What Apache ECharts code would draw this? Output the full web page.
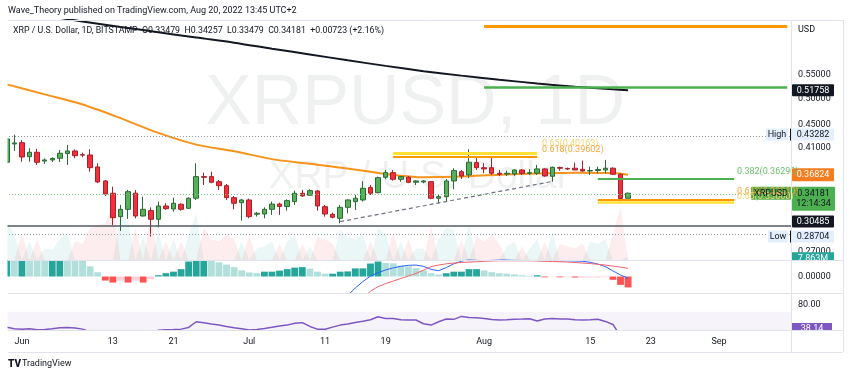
<!DOCTYPE html>
<html>
<head>
<meta charset="utf-8">
<script src="https://cdn.jsdelivr.net/npm/echarts@6/dist/echarts.min.js"></script>
<style>
html,body{margin:0;padding:0;background:#fff}
#chart{width:850px;height:377px}
</style>
</head>
<body>
<div id="chart"></div>
<script>
// daily candles XRP/USD, Bitstamp
var dates = ['May 30','May 31',
  'Jun 1','Jun 2','Jun 3','Jun 4','Jun 5','Jun 6','Jun 7','Jun 8','Jun 9','Jun 10','Jun 11','Jun 12','Jun 13','Jun 14','Jun 15',
  'Jun 16','Jun 17','Jun 18','Jun 19','Jun 20','Jun 21','Jun 22','Jun 23','Jun 24','Jun 25','Jun 26','Jun 27','Jun 28','Jun 29','Jun 30',
  'Jul 1','Jul 2','Jul 3','Jul 4','Jul 5','Jul 6','Jul 7','Jul 8','Jul 9','Jul 10','Jul 11','Jul 12','Jul 13','Jul 14','Jul 15','Jul 16',
  'Jul 17','Jul 18','Jul 19','Jul 20','Jul 21','Jul 22','Jul 23','Jul 24','Jul 25','Jul 26','Jul 27','Jul 28','Jul 29','Jul 30','Jul 31',
  'Aug 1','Aug 2','Aug 3','Aug 4','Aug 5','Aug 6','Aug 7','Aug 8','Aug 9','Aug 10','Aug 11','Aug 12','Aug 13','Aug 14','Aug 15','Aug 16',
  'Aug 17','Aug 18','Aug 19','Aug 20','Aug 21','Aug 22','Aug 23','Aug 24','Aug 25','Aug 26','Aug 27','Aug 28','Aug 29','Aug 30','Aug 31',
  'Sep 1','Sep 2','Sep 3','Sep 4','Sep 5','Sep 6','Sep 7','Sep 8','Sep 9','Sep 10'];

var tickDates = ['Jun 1','Jun 13','Jun 21','Jul 1','Jul 11','Jul 19','Aug 1','Aug 15','Aug 23','Sep 1'];
var priceTicks = [0.27, 0.41, 0.45, 0.5, 0.55];

// [open, close, low, high]
var candles = [
  [0.3872,0.4253,0.3860,0.4270],[0.4168,0.4185,0.4052,0.43282],[0.4190,0.3955,0.3880,0.4236],[0.3960,0.4031,0.3880,0.4097],
  [0.4031,0.3872,0.3830,0.4085],[0.3890,0.3908,0.3845,0.3932],[0.3908,0.3932,0.3877,0.3950],[0.3935,0.4015,0.3877,0.4069],
  [0.4010,0.4052,0.3830,0.4151],[0.4052,0.3976,0.3935,0.4080],[0.3992,0.3985,0.3950,0.4025],[0.3987,0.3788,0.3727,0.4080],
  [0.3799,0.3576,0.3558,0.3856],[0.3591,0.3407,0.3380,0.3605],[0.3417,0.3097,0.3007,0.3509],[0.3110,0.3203,0.2935,0.3260],
  [0.3203,0.3439,0.3081,0.3463],[0.3418,0.3118,0.3089,0.3463],[0.3118,0.3203,0.3110,0.3370],[0.3186,0.3077,0.28704,0.3229],
  [0.3077,0.3246,0.2979,0.3304],[0.3246,0.3211,0.3195,0.3282],[0.3207,0.3282,0.3173,0.3357],[0.3269,0.3203,0.3186,0.3282],
  [0.3216,0.3349,0.3207,0.3362],[0.3349,0.3654,0.3326,0.3856],[0.3654,0.3645,0.3533,0.3712],[0.3654,0.3572,0.3558,0.3727],
  [0.3580,0.3523,0.3463,0.3605],[0.3523,0.3357,0.3326,0.3548],[0.3357,0.3282,0.3203,0.3380],[0.3290,0.3326,0.3060,0.3340],
  [0.3326,0.3110,0.3089,0.3343],[0.3140,0.3152,0.3110,0.3169],[0.3143,0.3203,0.3089,0.3229],[0.3203,0.3271,0.3131,0.3304],
  [0.3271,0.3240,0.3131,0.3290],[0.3240,0.3317,0.3186,0.3335],[0.3304,0.3417,0.3260,0.3453],[0.3417,0.3380,0.3370,0.3463],
  [0.3390,0.3453,0.3380,0.3472],[0.3449,0.3246,0.3186,0.3463],[0.3237,0.3143,0.3110,0.3260],[0.3139,0.3102,0.3089,0.3160],
  [0.3089,0.3229,0.3027,0.3260],[0.3229,0.3326,0.3152,0.3335],[0.3304,0.3349,0.3195,0.3394],[0.3326,0.3486,0.3304,0.3586],
  [0.3496,0.3417,0.3394,0.3533],[0.3425,0.3639,0.3417,0.3654],[0.3645,0.3713,0.3615,0.3753],[0.3713,0.3615,0.3595,0.3753],
  [0.3615,0.3654,0.3580,0.3664],[0.3645,0.3572,0.3558,0.3664],[0.3572,0.3591,0.3533,0.3605],[0.3576,0.3591,0.3558,0.3605],
  [0.3581,0.3349,0.3335,0.3590],[0.3349,0.3370,0.3282,0.3394],[0.3370,0.3591,0.3304,0.3620],[0.3591,0.3743,0.3472,0.3780],
  [0.3727,0.3664,0.3620,0.3753],[0.3679,0.3872,0.3634,0.4080],[0.3866,0.3788,0.3753,0.3971],[0.3788,0.3769,0.3704,0.3856],
  [0.3788,0.3704,0.3679,0.3950],[0.3704,0.3690,0.3664,0.3753],[0.3693,0.3704,0.3664,0.3743],[0.3693,0.3753,0.3664,0.3764],
  [0.3753,0.3704,0.3679,0.3764],[0.3704,0.3712,0.3679,0.3764],[0.3704,0.3769,0.3679,0.3830],[0.3769,0.3664,0.3654,0.3780],
  [0.3659,0.3794,0.3580,0.3804],[0.3790,0.3780,0.3743,0.3804],[0.3775,0.3769,0.3753,0.3789],[0.3780,0.3753,0.3753,0.3866],
  [0.3764,0.3738,0.3727,0.3897],[0.3738,0.3745,0.3679,0.3804],[0.3745,0.3760,0.3704,0.3804],[0.3753,0.3780,0.3704,0.3908],
  [0.3780,0.3689,0.3679,0.3794],[0.3689,0.33458,0.3304,0.3700],[0.33479,0.34181,0.33479,0.34257]
];

// volume, millions
var volume = [85,55,60,40,45,25,22,45,60,40,35,70,75,80,120,95,85,70,50,95,60,40,45,40,55,100,70,45,40,55,
  45,40,55,25,30,40,35,40,55,35,30,50,45,35,65,50,45,55,40,70,55,60,40,45,25,25,75,45,70,65,
  45,80,50,40,55,35,30,40,30,25,45,40,60,35,30,25,35,40,35,45,55,115,7.863];

// [day index, value]
var ema50 = [[0,0.530],[5,0.509],[10,0.4886],[15,0.4625],[20,0.4358],[25,0.4157],[30,0.4049],[35,0.3921],[40,0.3848],
  [45,0.3776],[50,0.3693],[55,0.3645],[60,0.3655],[65,0.3683],[70,0.3700],[75,0.3712],[80,0.3708],[82,0.36824]];
var ma200 = [[0,0.717],[5,0.700],[10,0.683],[15,0.668],[20,0.654],[25,0.640],[30,0.627],[35,0.612],[40,0.598],
  [45,0.584],[50,0.571],[55,0.559],[60,0.549],[65,0.540],[70,0.532],[75,0.525],[80,0.5195],[82,0.51758]];

var macdHist = [0.0080,0.0078,0.0080,0.0077,0.0074,0.0071,0.0073,0.0075,0.0072,0.0069,0.0066,
  0.0040,0.0017,-0.0016,-0.0024,-0.0016,-0.0024,-0.0016,-0.0024,-0.0011,
  0.0005,0.0013,0.0019,0.0029,0.0059,0.0066,0.0068,0.0066,0.0056,0.0047,
  0.0037,0.0024,0.0016,0.0013,0.0019,0.0019,0.0023,0.0029,0.0035,0.0037,
  0.0031,0.0019,0.0011,0.0011,0.0019,0.0020,0.0032,0.0032,0.0051,0.0059,
  0.0053,0.0052,0.0043,0.0040,0.0033,0.0024,0.0013,0.0008,0.0013,0.0019,
  0.0019,0.0029,0.0029,0.0024,0.0017,0.0013,0.0011,0.0008,0.0005,0.0003,
  0.0005,-0.0003,-0.0001,-0.0003,-0.0003,-0.0004,-0.0004,-0.0004,-0.0004,-0.0003,
  -0.0013,-0.0033,-0.0043];
var macdStart = 43;
var macdLine = [-0.014,-0.011,-0.0075,-0.0045,-0.002,0.0002,0.0015,0.0026,0.0034,0.004,0.0044,0.0045,0.004,0.0028,0.0023,
  0.0035,0.005,0.006,0.0067,0.0070,0.0072,0.0070,0.0068,0.0066,0.0064,0.0063,0.0063,0.0063,0.0062,0.0063,0.0062,0.0062,
  0.0061,0.0060,0.0056,0.0049,0.0039,0.0022,0.0006,-0.0007];
var signalStart = 45;
var signalLine = [-0.014,-0.012,-0.0085,-0.0058,-0.004,-0.0028,-0.0018,-0.0008,0.0002,0.0012,0.0025,0.0039,0.0045,0.005,
  0.0053,0.0055,0.0057,0.0058,0.006,0.0061,0.0062,0.0062,0.0062,0.0062,0.0062,0.0061,0.006,0.0059,0.0058,0.0057,0.0055,
  0.0053,0.0051,0.0048,0.0045,0.0041,0.0037,0.0032];

var rsi = [46.7,44.5,43.8,44.6,43,43.3,44.5,46.2,46.5,45.8,44,40,35,31,24,27,33,28,30,28,
  42.5,43,43.4,44,46.5,55,53.5,51.5,50.3,48,46,44.5,42.6,43.5,45,46.7,48.5,50,52.7,53.6,
  48,44,43.8,47,50,51.5,54,55.8,58,62.5,60,60,58,57.6,57.6,52,50,55,59,58.6,
  63,61.5,61,60,58.5,57.6,58,58.6,59,59.5,56,59,60,59,59,58,57.6,58,58.6,55.5,51,33.5,38.14];

// drawn levels
var topOrange = 0.669;
var topGreen = 0.523;
var fibUpper = [0.40163, 0.39602];
var fib382 = 0.3629;
var fibLower = [0.3331, 0.3300];
var support = 0.30485;
var trendFrom = ['Jul 13', 0.3048];
var trendTo = ['Aug 10', 0.3584];
var lastClose = 0.34181, dayHigh = 0.43282, dayLow = 0.28704;

var TXT = '#131722';
var FONT = 'Roboto, "Noto Sans", sans-serif';
var FS = 9;
var chart = echarts.init(document.getElementById('chart'));

function xAx(gi, show) {
  return {
    type: 'category', gridIndex: gi, data: dates, boundaryGap: true,
    axisLine: {show: false}, axisTick: {show: false}, splitLine: {show: false},
    axisLabel: show ? {
      show: true, color: TXT, fontSize: FS, fontFamily: FONT, margin: 7,
      interval: function (i, v) { return tickDates.indexOf(v) >= 0; },
      formatter: function (v) { var p = v.split(' '); return p[1] === '1' ? p[0] : p[1]; }
    } : {show: false}
  };
}

function pts(arr) { return arr.map(function (p) { return [dates[p[0]], p[1]]; }); }
function fromStart(start, arr) { return arr.map(function (v, i) { return [dates[start + i], v]; }); }

var upVol = volume.map(function (v, i) { return candles[i][1] >= candles[i][0] ? v : 0; });
var dnVol = volume.map(function (v, i) { return candles[i][1] < candles[i][0] ? v : 0; });

var histData = macdHist.map(function (v, i) {
  var prev = i > 0 ? macdHist[i - 1] : v;
  var c;
  if (v >= 0) c = v >= prev ? '#26a69a' : '#b2dfdb';
  else c = v < prev ? '#ff5252' : '#ffcdd2';
  return {value: v, itemStyle: {color: c}};
});

function seg(a, b, color, width, type) {
  return [{coord: a, lineStyle: {color: color, width: width, type: type || 'solid'}}, {coord: b}];
}

var labelStyle = {color: TXT, fontSize: FS, fontFamily: FONT};

var option = {
  animation: false,
  backgroundColor: '#fff',
  grid: [
    {left: 3, top: 20, width: 788, height: 240, outerBoundsMode: 'none'},
    {left: 3, top: 260, width: 788, height: 33, outerBoundsMode: 'none'},
    {left: 3, top: 293, width: 788, height: 37, outerBoundsMode: 'none'}
  ],
  xAxis: [xAx(0, false), xAx(1, false), xAx(2, true)],
  yAxis: [
    {type: 'log', gridIndex: 0, position: 'right', min: 0.2611, max: 0.687,
      axisLine: {show: false}, axisTick: {show: false}, splitLine: {show: false},
      axisLabel: Object.assign({customValues: priceTicks, margin: 7,
        formatter: function (v) { return Number(v).toFixed(5); }}, labelStyle)},
    {type: 'value', gridIndex: 1, position: 'right', min: -0.0065, max: 0.0065,
      axisLine: {show: false}, axisTick: {show: false}, splitLine: {show: false},
      axisLabel: Object.assign({customValues: [0], margin: 7,
        formatter: function (v) { return Number(v).toFixed(5); }}, labelStyle)},
    {type: 'value', gridIndex: 2, position: 'right', min: 42.7, max: 97.9,
      axisLine: {show: false}, axisTick: {show: false}, splitLine: {show: false},
      axisLabel: Object.assign({customValues: [80], margin: 7,
        formatter: function (v) { return Number(v).toFixed(2); }}, labelStyle)},
    {type: 'value', gridIndex: 0, min: 0, max: 520, show: false}
  ],
  series: [
    {type: 'line', xAxisIndex: 0, yAxisIndex: 3, data: upVol, symbol: 'none', z: 1,
      lineStyle: {width: 0}, areaStyle: {color: 'rgba(38,166,154,0.13)'}},
    {type: 'line', xAxisIndex: 0, yAxisIndex: 3, data: dnVol, symbol: 'none', z: 1,
      lineStyle: {width: 0}, areaStyle: {color: 'rgba(242,54,69,0.13)'}},
    {type: 'line', xAxisIndex: 0, yAxisIndex: 0, data: pts(ma200), symbol: 'none', smooth: 0.3,
      lineStyle: {color: '#131722', width: 2}},
    {type: 'line', xAxisIndex: 0, yAxisIndex: 0, data: pts(ema50), symbol: 'none', smooth: 0.3,
      lineStyle: {color: '#f7931a', width: 2}},
    {type: 'candlestick', xAxisIndex: 0, yAxisIndex: 0, data: candles, barWidth: 5, z: 3,
      itemStyle: {color: '#55b05a', color0: '#f0303d', borderColor: '#2b6b34', borderColor0: '#a8202a', borderWidth: 1},
      markLine: {
        silent: true, symbol: ['none', 'none'], label: {show: false}, animation: false,
        data: [
          {yAxis: dayHigh, lineStyle: {color: '#9598a1', width: 1, type: [1, 2]}},
          {yAxis: dayLow, lineStyle: {color: '#9598a1', width: 1, type: [1, 2]}},
          {yAxis: lastClose, lineStyle: {color: '#7cc47f', width: 1, type: [1, 2]}},
          {yAxis: support, lineStyle: {color: '#555a63', width: 1.5, type: 'solid'}},
          seg(['Aug 1', topOrange], ['Sep 10', topOrange], '#ff9800', 3),
          seg(['Aug 1', topGreen], ['Sep 10', topGreen], '#4caf50', 2.5),
          seg(['Jul 20', fibUpper[0]], ['Aug 8', fibUpper[0]], '#ffe135', 3),
          seg(['Jul 20', fibUpper[1]], ['Aug 8', fibUpper[1]], '#ff9800', 2),
          seg(['Aug 16', fib382], ['Sep 3', fib382], '#4caf50', 2),
          seg(['Aug 16', fibLower[0]], ['Sep 3', fibLower[0]], '#ff9800', 2),
          seg(['Aug 16', fibLower[1]], ['Sep 3', fibLower[1]], '#ffe135', 2.5),
          seg(trendFrom, trendTo, '#6f7380', 1.2, [4, 3])
        ]
      }},
    {type: 'bar', xAxisIndex: 1, yAxisIndex: 1, data: histData, barCategoryGap: '10%'},
    {type: 'line', xAxisIndex: 1, yAxisIndex: 1, data: fromStart(macdStart, macdLine), symbol: 'none',
      lineStyle: {color: '#2962ff', width: 1}},
    {type: 'line', xAxisIndex: 1, yAxisIndex: 1, data: fromStart(signalStart, signalLine), symbol: 'none',
      lineStyle: {color: '#f2636c', width: 1}},
    {type: 'line', xAxisIndex: 2, yAxisIndex: 2, data: rsi, symbol: 'none',
      lineStyle: {color: '#7e57c2', width: 1.5},
      markArea: {silent: true, itemStyle: {color: 'rgba(126,87,194,0.07)'},
        data: [[{yAxis: 70}, {yAxis: 42.7}]]}}
  ]
};
chart.setOption(option);

// overlays: texts, axis badges, separators
function py(v) { return chart.convertToPixel({yAxisIndex: 0}, v); }
var g = [];
function txt(x, y, s, color, size, align, extra) {
  var st = {text: s, fill: color, fontSize: size, fontFamily: FONT,
    align: align || 'left', textAlign: align || 'left', verticalAlign: 'middle', textVerticalAlign: 'middle'};
  if (extra) Object.assign(st, extra);
  g.push({type: 'text', z: 101, x: x, y: y, style: st});
}
function box(x, yc, w, h, bg, s, color) {
  g.push({type: 'rect', z: 100, shape: {x: x, y: yc - h / 2, width: w, height: h, r: 1}, style: {fill: bg}});
  txt(x + w / 2, yc + 0.5, s, color, FS, 'center');
}
function hline(y, x1, x2, color) {
  g.push({type: 'line', z: 110, shape: {x1: x1, y1: y, x2: x2, y2: y}, style: {stroke: color, lineWidth: 1}});
}

// watermark
g.push({type: 'text', z: 0, x: 415, y: 105, style: {text: 'XRPUSD, 1D', fill: 'rgba(19,23,34,0.065)',
  fontSize: 70, fontFamily: '"Liberation Sans", Arial, sans-serif', align: 'center', textAlign: 'center',
  verticalAlign: 'middle', textVerticalAlign: 'middle'}});
g.push({type: 'text', z: 0, x: 419, y: 177, style: {text: 'XRP / U.S. Dollar', fill: 'rgba(19,23,34,0.065)',
  fontSize: 39, fontFamily: '"Liberation Sans", Arial, sans-serif', align: 'center', textAlign: 'center',
  verticalAlign: 'middle', textVerticalAlign: 'middle'}});

// header
txt(8, 11, 'Wave_Theory published on TradingView.com, Aug 20, 2022 13:45 UTC+2', TXT, 9);
txt(13, 31, 'XRP / U.S. Dollar, 1D, BITSTAMP  O0.33479  H0.34257  L0.33479  C0.34181  +0.00723 (+2.16%)', TXT, 8.8);
txt(798, 30, 'USD', TXT, FS);

// fib texts
txt(542, py(fibUpper[0]) - 9, '0.65(0.40163)', '#f9d56e', FS);
txt(542, py(fibUpper[1]) - 6.5, '0.618(0.39602)', '#ffa53a', FS);
txt(737, py(fib382) - 6.5, '0.382(0.36290)', '#6abf6d', FS);
txt(737, py(fibLower[0]) - 8, '0.618(0.33310)', '#ffa53a', FS);
txt(737, py(fibLower[1]) - 5, '0.65(0.33000)', '#f9d56e', FS);

// clip left edge
g.push({type: 'rect', z: 90, shape: {x: 0, y: 20, width: 7.5, height: 335}, style: {fill: '#fff'}});

// right-axis badges
var AX = 792, AW = 42;
box(AX, py(0.51758), AW, 12, '#131722', '0.51758', '#fff');
box(766, py(dayHigh), 22, 12, '#e3effd', 'High', TXT);
box(AX, py(dayHigh), AW, 12, '#e3effd', dayHigh.toFixed(5), TXT);
box(AX, py(0.36824), AW, 13, '#f57c1f', '0.36824', '#fff');
var yc = py(lastClose);
box(751, yc, 40, 13, '#4caf50', 'XRPUSD', TXT);
g.push({type: 'rect', z: 100, shape: {x: AX, y: yc - 6.5, width: AW + 1, height: 24, r: 1}, style: {fill: '#4caf50'}});
txt(AX + 21.5, yc + 0.5, lastClose.toFixed(5), TXT, FS, 'center');
txt(AX + 21.5, yc + 11, '12:14:34', TXT, FS, 'center');
box(AX, py(support), AW, 12, '#131722', support.toFixed(5), '#fff');
box(768, py(dayLow), 20, 12, '#e3effd', 'Low', TXT);
box(AX, py(dayLow), AW, 12, '#e3effd', dayLow.toFixed(5), TXT);
[py(dayHigh), py(dayLow)].forEach(function (y) {
  g.push({type: 'line', z: 102, shape: {x1: 790.5, y1: y - 6, x2: 790.5, y2: y + 6}, style: {stroke: '#131722', lineWidth: 1}});
});
// volume badge, cut at pane border
var yv = chart.convertToPixel({yAxisIndex: 3}, volume[volume.length - 1]);
g.push({type: 'rect', z: 100, shape: {x: AX, y: yv - 4, width: AW, height: 260 - (yv - 4)}, style: {fill: '#26a69a'}});
txt(AX + 21, yv + 2, '7.863M', '#fff', FS, 'center');
g.push({type: 'rect', z: 105, shape: {x: AX, y: 260.5, width: 50, height: 8}, style: {fill: '#fff'}});
// rsi badge, cut at pane border
g.push({type: 'rect', z: 100, shape: {x: AX, y: 323, width: AW - 2, height: 7}, style: {fill: '#7e57c2'}});
txt(AX + 20, 329, rsi[rsi.length - 1].toFixed(2), '#fff', FS, 'center');
g.push({type: 'rect', z: 105, shape: {x: AX, y: 330.5, width: 50, height: 21}, style: {fill: '#fff'}});

// pane borders
[20, 260, 293, 330, 352].forEach(function (y) { hline(y + 0.5, 8, 843, '#e0e3eb'); });
g.push({type: 'line', z: 110, shape: {x1: 791.5, y1: 20, x2: 791.5, y2: 352}, style: {stroke: '#e0e3eb', lineWidth: 1}});
g.push({type: 'line', z: 110, shape: {x1: 843.5, y1: 20, x2: 843.5, y2: 352}, style: {stroke: '#e0e3eb', lineWidth: 1}});

// footer
txt(8, 364, 'TV', TXT, 10, 'left', {fontWeight: 900});
txt(22, 364, 'TradingView', TXT, 9);

chart.setOption({graphic: {elements: g}});
</script>
</body>
</html>
